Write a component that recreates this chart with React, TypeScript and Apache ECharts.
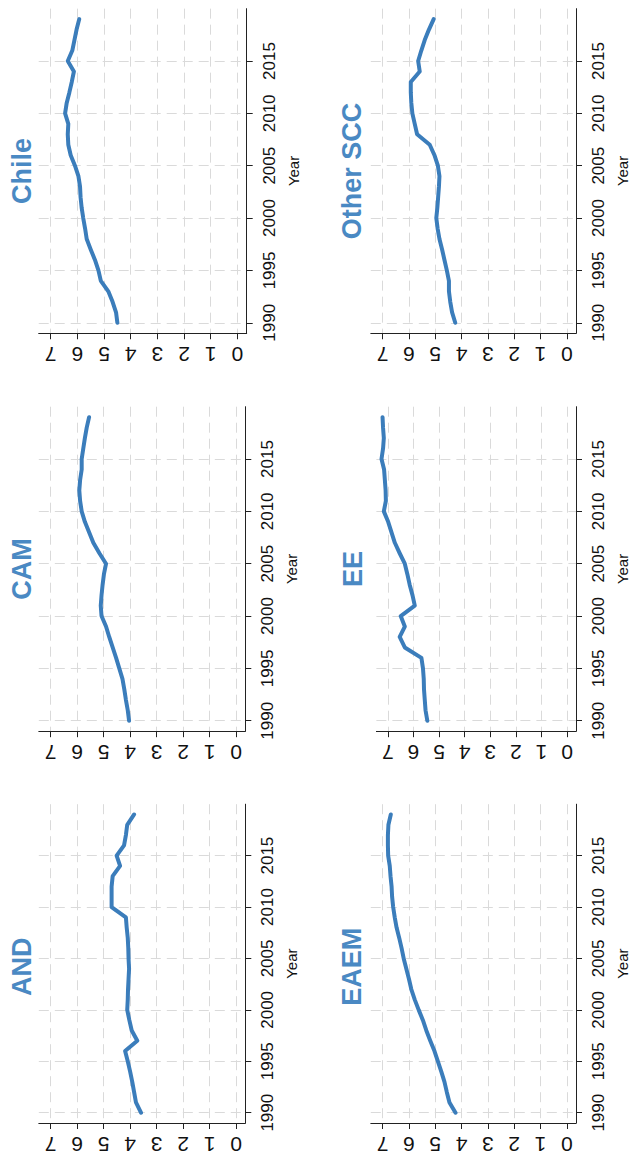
import React, { useEffect, useRef } from "react";
import * as echarts from "echarts";

// ---- data ----
const years = [
  1990, 1991, 1992, 1993, 1994, 1995, 1996, 1997, 1998, 1999,
  2000, 2001, 2002, 2003, 2004, 2005, 2006, 2007, 2008, 2009,
  2010, 2011, 2012, 2013, 2014, 2015, 2016, 2017, 2018, 2019,
];
const chile = [
  4.5, 4.55, 4.68, 4.84, 5.12, 5.21, 5.34, 5.5, 5.65, 5.71,
  5.78, 5.84, 5.88, 5.9, 5.96, 6.09, 6.25, 6.34, 6.36, 6.34,
  6.46, 6.4, 6.3, 6.21, 6.13, 6.36, 6.19, 6.11, 6.03, 5.93,
];
const otherSCC = [
  4.24, 4.36, 4.43, 4.48, 4.48, 4.56, 4.65, 4.74, 4.84, 4.91,
  4.96, 4.92, 4.89, 4.86, 4.84, 4.9, 5.03, 5.21, 5.69, 5.78,
  5.87, 5.91, 5.93, 5.93, 5.59, 5.65, 5.53, 5.4, 5.24, 5.06,
];
const cam = [
  4.04, 4.09, 4.16, 4.22, 4.29, 4.41, 4.53, 4.66, 4.79, 4.91,
  5.08, 5.11, 5.08, 5.04, 4.99, 4.91, 5.16, 5.39, 5.55, 5.71,
  5.83, 5.89, 5.92, 5.89, 5.83, 5.83, 5.77, 5.71, 5.64, 5.55,
];
const ee = [
  5.46, 5.53, 5.56, 5.59, 5.6, 5.63, 5.69, 6.34, 6.54, 6.34,
  6.5, 5.95, 6.04, 6.15, 6.24, 6.34, 6.54, 6.73, 6.86, 6.99,
  7.16, 7.08, 7.09, 7.12, 7.15, 7.25, 7.19, 7.16, 7.19, 7.21,
];
const and = [
  3.59, 3.78, 3.85, 3.92, 4.0, 4.09, 4.19, 3.73, 3.94, 4.03,
  4.11, 4.09, 4.08, 4.06, 4.04, 4.06, 4.07, 4.09, 4.13, 4.16,
  4.7, 4.7, 4.7, 4.66, 4.38, 4.51, 4.23, 4.16, 4.11, 3.85,
];
const eaem = [
  4.23, 4.46, 4.56, 4.65, 4.77, 4.9, 5.03, 5.19, 5.34, 5.47,
  5.63, 5.78, 5.91, 6.0, 6.1, 6.2, 6.28, 6.37, 6.47, 6.54,
  6.6, 6.64, 6.66, 6.7, 6.73, 6.79, 6.8, 6.8, 6.78, 6.69,
];
const valueTicks = [0, 1, 2, 3, 4, 5, 6, 7];
const yearTicks = [1990, 1995, 2000, 2005, 2010, 2015];
const axisTitle = "Year";

const panelNames = ["Chile", "Other SCC", "CAM", "EE", "AND", "EAEM"];
const panelSeries = [chile, otherSCC, cam, ee, and, eaem];

// ---- layout (pixels) ----
const layout = [
  { left: 38.7, top: 8.65, width: 208, height: 324.6, titleX: 22 },
  { left: 370.8, top: 8.65, width: 206.5, height: 324.6, titleX: 352 },
  { left: 38.8, top: 406.7, width: 206.5, height: 324.5, titleX: 22 },
  { left: 376.4, top: 406.7, width: 200.6, height: 324.5, titleX: 353 },
  { left: 38.8, top: 804.2, width: 206.5, height: 325.2, titleX: 22 },
  { left: 370.8, top: 804.2, width: 206.5, height: 325.2, titleX: 352 },
];

const FONT = "'Liberation Sans', Arial, Helvetica, sans-serif";
const LINE_COLOR = "#3b7dbb";
const TITLE_COLOR = "#4a89c3";
const GRID_COLOR = "#dadada";

export default function App() {
  const ref = useRef<HTMLDivElement>(null);

  useEffect(() => {
    if (!ref.current) return;
    const chart = echarts.init(ref.current, undefined, { renderer: "svg" });

    const grids: any[] = [];
    const xAxes: any[] = [];
    const yAxes: any[] = [];
    const series: any[] = [];
    const graphics: any[] = [];

    panelNames.forEach((name, i) => {
      const L = layout[i];
      grids.push({ left: L.left, top: L.top, width: L.width, height: L.height, containLabel: false });
      xAxes.push({
        type: "value",
        gridIndex: i,
        inverse: true,
        min: -0.35,
        max: 7.45,
        position: "bottom",
        axisLine: { show: true, onZero: false, lineStyle: { color: "#222", width: 1 } },
        axisTick: { show: true, length: 6, customValues: valueTicks, lineStyle: { color: "#222" } },
        axisLabel: {
          show: true,
          customValues: valueTicks,
          formatter: (v: number) => String(v),
          rotate: 180,
          margin: 11,
          fontSize: 21,
          color: "#111",
          fontFamily: FONT,
        },
        splitLine: { show: true, lineStyle: { color: GRID_COLOR, type: [10, 6], width: 1 } },
      });
      yAxes.push({
        type: "value",
        gridIndex: i,
        min: 1989,
        max: 2020,
        position: "right",
        name: axisTitle,
        nameLocation: "middle",
        nameRotate: 90,
        nameGap: 39,
        nameTextStyle: { fontSize: 15, color: "#111", fontFamily: FONT },
        axisLine: { show: true, onZero: false, lineStyle: { color: "#222", width: 1 } },
        axisTick: { show: true, length: 6, customValues: yearTicks, lineStyle: { color: "#222" } },
        axisLabel: {
          show: true,
          customValues: yearTicks,
          formatter: (v: number) => String(v),
          rotate: 90,
          margin: 14,
          fontSize: 17,
          color: "#111",
          fontFamily: FONT,
        },
        splitLine: { show: true, lineStyle: { color: GRID_COLOR, type: [10, 6], width: 1 } },
      });
      series.push({
        type: "line",
        xAxisIndex: i,
        yAxisIndex: i,
        data: years.map((y, k) => [panelSeries[i][k], y]),
        showSymbol: false,
        symbol: "none",
        lineStyle: { color: LINE_COLOR, width: 4, join: "round", cap: "round" },
        itemStyle: { color: LINE_COLOR },
      });
      graphics.push({
        type: "text",
        x: L.titleX,
        y: L.top + L.height / 2,
        rotation: Math.PI / 2,
        style: {
          text: name,
          fill: TITLE_COLOR,
          font: `bold 27px ${FONT}`,
          textAlign: "center",
          textVerticalAlign: "middle",
        },
      });
    });

    chart.setOption({
      animation: false,
      backgroundColor: "#ffffff",
      grid: grids,
      xAxis: xAxes,
      yAxis: yAxes,
      series,
      graphic: graphics,
    });

    return () => chart.dispose();
  }, []);

  return (
    <div
      ref={ref}
      style={{ position: "absolute", left: 0, top: 0, width: 631, height: 1155, background: "#fff" }}
    />
  );
}
